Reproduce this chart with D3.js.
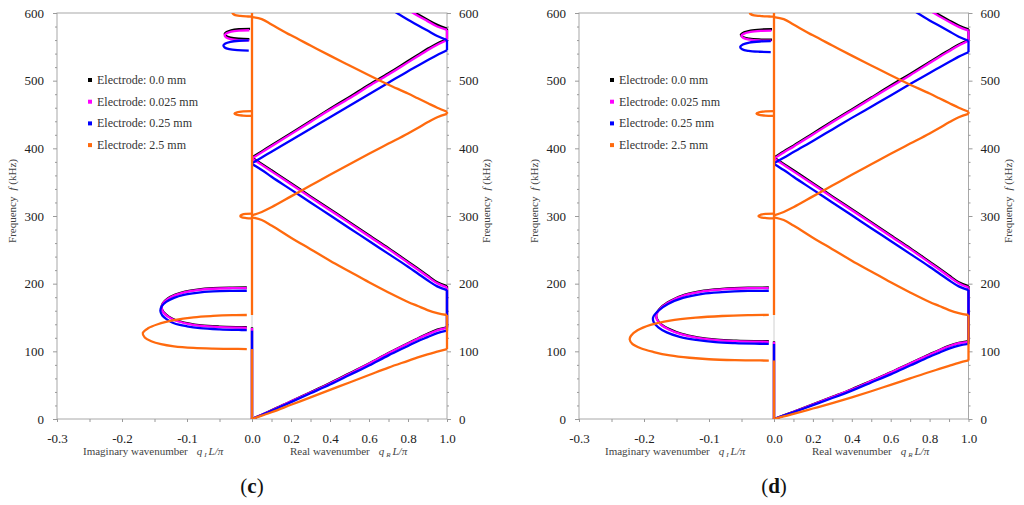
<!DOCTYPE html>
<html>
<head>
<meta charset="utf-8">
<script src="https://cdn.jsdelivr.net/npm/d3@7"></script>
<style>
  body { margin: 0; background: #fff; }
  svg { display: block; }
  text { font-family: "Liberation Serif", "Times New Roman", serif; }
</style>
</head>
<body>
<div class="chart"></div>
<script>
// ---- data ----
let seriesNames = ["Electrode: 0.0 mm", "Electrode: 0.025 mm", "Electrode: 0.25 mm", "Electrode: 2.5 mm"];
let seriesColors = ["#000000", "#ff00ff", "#0000ff", "#ff6a0e"];

let freqTicks = [0, 100, 200, 300, 400, 500, 600];
let freqMinor = [20, 40, 60, 80, 120, 140, 160, 180, 220, 240, 260, 280, 320, 340, 360, 380, 420, 440, 460, 480, 520, 540, 560, 580];
let imagTicks = [-0.3, -0.2, -0.1];
let imagMinor = [-0.25, -0.15, -0.05];
let realTicks = [0, 0.2, 0.4, 0.6, 0.8, 1.0];
let realMinor = [0.1, 0.3, 0.5, 0.7, 0.9];

// real wavenumber grid  q_R L/pi
let qGrid = [0, 0.05, 0.1, 0.2, 0.3, 0.4, 0.5, 0.6, 0.7, 0.8, 0.85, 0.9, 0.95, 1];

// (c) frequencies (kHz) on qGrid, order: 0.0, 0.025, 0.25, 2.5 mm
let cBand1 = [
  [0, 6.3, 12.7, 26.3, 39.5, 53, 67.5, 82, 97.5, 112, 119, 126, 132, 135.5],
  [0, 6.2, 12.5, 26, 39, 52.5, 67, 81.5, 97, 111.5, 118.5, 125, 131, 134.5],
  [0, 6, 12, 25, 38, 51, 65, 79, 94, 108, 115, 121, 127, 130.5],
  [0, 5, 10, 21, 32, 43, 54, 65, 76, 86, 91, 95.5, 99.5, 103.4]
];
let cBand2 = [
  [386.5, 377, 367.5, 348.5, 329, 310, 291, 271.5, 252.5, 232.5, 222.5, 212, 202, 196.5],
  [385, 375.5, 366, 347, 327.5, 308.5, 289.5, 270, 251, 231, 221, 210.5, 200.5, 194.5],
  [377, 368, 358, 339, 320, 301, 282, 263, 244, 225, 215, 205, 196, 190.5],
  [298, 294, 286, 268, 251, 234, 218, 202, 187, 173, 167, 161, 156.5, 153.7]
];
let cBand3 = [
  [386.5, 395.5, 404.5, 422.5, 440.5, 458.5, 476, 494, 511, 529, 538, 547, 555, 561],
  [385, 394, 403, 421, 439, 457, 474, 492, 509, 527, 536, 545, 553, 560],
  [378, 386.5, 395, 412, 429, 446, 463, 480, 497, 514, 522, 530, 538, 545],
  [301, 306, 313, 329, 345, 361, 376.5, 392, 407, 422, 430, 438.5, 446, 451]
];
let cBand4 = [
  [null, null, null, null, null, null, null, null, 624, 607, 598, 590, 582.5, 577],
  [null, null, null, null, null, null, null, null, 622, 605, 596, 588, 580, 575],
  [null, null, null, null, null, null, null, null, 608, 590, 582, 574, 566, 560],
  [594, 591, 583, 567, 552, 537, 522.5, 508, 494, 481, 474, 467, 460, 454]
];
// (c) imaginary branches [q_I L/pi, f]
let cGapLoops = [
  [[-0.008, 194.3], [-0.03, 194.1], [-0.06, 193.3], [-0.084, 191.3], [-0.103, 188.3], [-0.118, 183.8], [-0.13, 177.8], [-0.137, 171.3], [-0.139, 164.8], [-0.136, 157.8], [-0.128, 151.3], [-0.118, 146.3], [-0.098, 141.3], [-0.078, 138.3], [-0.05, 136.6], [-0.02, 135.8], [-0.008, 135.6]],
  [[-0.008, 193.5], [-0.03, 193.3], [-0.06, 192.5], [-0.084, 190.5], [-0.103, 187.5], [-0.118, 183], [-0.13, 177], [-0.137, 170.5], [-0.139, 164], [-0.136, 157], [-0.128, 150.5], [-0.118, 145.5], [-0.098, 140.5], [-0.078, 137.5], [-0.05, 135.8], [-0.02, 135], [-0.008, 134.8]],
  [[-0.008, 189.5], [-0.03, 189.3], [-0.06, 188.5], [-0.085, 186.5], [-0.105, 183.5], [-0.12, 179], [-0.132, 173], [-0.139, 166.5], [-0.141, 160], [-0.138, 153], [-0.13, 146.5], [-0.12, 141.5], [-0.1, 137], [-0.08, 134.3], [-0.05, 132.5], [-0.02, 131.6], [-0.008, 131.4]],
  [[-0.008, 153.7], [-0.03, 153.4], [-0.06, 152.3], [-0.09, 150.3], [-0.12, 146], [-0.145, 140], [-0.16, 134], [-0.168, 127], [-0.165, 120.5], [-0.155, 115], [-0.14, 110.5], [-0.12, 107.3], [-0.09, 105], [-0.06, 104], [-0.03, 103.6], [-0.008, 103.4]]
];
let cSmallLoops = [
  [0, [[-0.003, 576.5], [-0.02, 576], [-0.032, 574.5], [-0.039, 572], [-0.042, 569], [-0.04, 566], [-0.033, 563.5], [-0.02, 562], [-0.004, 561.5]]],
  [1, [[-0.004, 574.5], [-0.02, 574], [-0.032, 572.5], [-0.039, 570], [-0.042, 567], [-0.04, 564], [-0.033, 561.5], [-0.02, 560], [-0.004, 559.5]]],
  [2, [[-0.005, 559.5], [-0.02, 559], [-0.033, 557.5], [-0.041, 555], [-0.044, 552], [-0.042, 549], [-0.035, 546.5], [-0.022, 545], [-0.005, 544.5]]],
  [3, [[0, 603.5], [-0.015, 603], [-0.026, 601.5], [-0.03, 599.5], [-0.027, 597.3], [-0.018, 595.6], [-0.006, 594.8], [0, 594.5]]],
  [3, [[0, 455], [-0.013, 454.6], [-0.023, 453.3], [-0.027, 451.5], [-0.024, 449.7], [-0.014, 448.4], [0, 448]]],
  [3, [[0, 303.5], [-0.009, 303.1], [-0.015, 302], [-0.018, 300], [-0.016, 298.2], [-0.009, 297], [0, 296.5]]]
];
// vertical pieces [series, f from, f to] at q = 0 and q = 1
let cEdge0 = [[0, 0, 135.5], [1, 0, 134.5], [2, 0, 130.5], [3, 0, 103.4], [3, 153.7, 600]];
let cEdge1 = [[0, 135.5, 196.5], [1, 134.5, 194.5], [2, 130.5, 190.5], [3, 103.4, 153.7], [0, 561, 577], [1, 560, 575], [2, 545, 560], [3, 451, 454]];

// (d)
let dBand1 = [
  [0, 5.3, 10.6, 21.6, 32.7, 44, 56.5, 69, 82.5, 95.5, 102, 108, 112.5, 115],
  [0, 5.2, 10.4, 21.3, 32.3, 43.5, 56, 68.5, 82, 95, 101.5, 107.5, 112, 114],
  [0, 5, 10, 20.5, 31, 42, 54, 66, 79, 92, 98, 104, 108.5, 111],
  [0, 3.8, 7.6, 15.5, 23.5, 32, 41, 50.5, 60, 69.5, 74, 78.5, 83, 86.5]
];
let dBand2 = [
  [386.5, 377, 367.5, 348.5, 329, 310, 291, 271.5, 252.5, 232.5, 222.5, 212, 202, 196.5],
  [385, 375.5, 366, 347, 327.5, 308.5, 289.5, 270, 251, 231, 221, 210.5, 200.5, 194.5],
  [377, 368, 358, 339, 320, 301, 282, 263, 244, 225, 215, 205, 196, 190.5],
  [298, 294, 286, 268, 251, 234, 218, 202, 187, 173, 167, 161, 156.5, 153.7]
];
let dBand3 = [
  [386.5, 395.5, 404, 422, 440, 457.5, 475, 493, 510, 527.5, 536.5, 545, 553.5, 560],
  [385, 394, 402.5, 420.5, 438.5, 456, 473.5, 491, 508, 526, 535, 543.5, 552, 559],
  [378, 386, 394.5, 411, 428, 445, 461.5, 478, 495, 511.5, 519.5, 527.5, 535.5, 542],
  [301, 306, 313, 329, 345, 361, 376.5, 392, 407, 422, 430, 438.5, 446, 451]
];
let dBand4 = [
  [null, null, null, null, null, null, null, null, 623, 606, 597, 589, 581.5, 576],
  [null, null, null, null, null, null, null, null, 621, 604, 595, 587, 579.5, 574],
  [null, null, null, null, null, null, null, null, 607, 589, 581, 573, 565, 559],
  [594, 591, 583, 567, 552, 537, 522.5, 508, 494, 481, 474, 467, 460, 454]
];
let dGapLoops = [
  [[-0.008, 194.3], [-0.04, 194], [-0.08, 192.3], [-0.108, 189.8], [-0.137, 183.8], [-0.159, 174.8], [-0.174, 164.8], [-0.181, 154.8], [-0.18, 147.8], [-0.174, 140.3], [-0.161, 132.8], [-0.142, 125.8], [-0.118, 120.8], [-0.088, 117.3], [-0.058, 115.8], [-0.03, 115.1], [-0.008, 114.9]],
  [[-0.008, 193.5], [-0.04, 193.2], [-0.08, 191.5], [-0.108, 189], [-0.137, 183], [-0.159, 174], [-0.174, 164], [-0.181, 154], [-0.18, 147], [-0.174, 139.5], [-0.161, 132], [-0.142, 125], [-0.118, 120], [-0.088, 116.5], [-0.058, 115], [-0.03, 114.3], [-0.008, 114.1]],
  [[-0.008, 189.5], [-0.04, 189.2], [-0.08, 187.5], [-0.11, 185], [-0.14, 179], [-0.163, 170], [-0.178, 160], [-0.186, 150], [-0.185, 143], [-0.178, 135.5], [-0.165, 128], [-0.145, 121.5], [-0.12, 117], [-0.09, 113.5], [-0.06, 112], [-0.03, 111.3], [-0.008, 111.1]],
  [[-0.008, 153.8], [-0.04, 153.4], [-0.08, 152.2], [-0.12, 149.8], [-0.16, 145.5], [-0.19, 139], [-0.21, 131], [-0.22, 123], [-0.222, 117.5], [-0.218, 111], [-0.205, 104.5], [-0.185, 99], [-0.16, 94], [-0.13, 90.5], [-0.1, 88.3], [-0.06, 87], [-0.03, 86.6], [-0.008, 86.4]]
];
let dSmallLoops = [
  [0, [[-0.003, 576], [-0.02, 575.5], [-0.036, 574], [-0.046, 571.5], [-0.051, 568], [-0.048, 564.5], [-0.038, 562], [-0.02, 560.8], [-0.003, 560.5]]],
  [1, [[-0.004, 574], [-0.02, 573.5], [-0.036, 572], [-0.046, 569.5], [-0.05, 566.5], [-0.047, 563], [-0.037, 560.5], [-0.02, 559.3], [-0.004, 559]]],
  [2, [[-0.005, 558.5], [-0.02, 558], [-0.038, 556.3], [-0.048, 553.5], [-0.052, 550], [-0.049, 546.5], [-0.039, 544], [-0.022, 542.7], [-0.005, 542.3]]],
  [3, [[0, 603.5], [-0.018, 603], [-0.032, 601.5], [-0.037, 599.5], [-0.034, 597.3], [-0.022, 595.6], [-0.007, 594.8], [0, 594.5]]],
  [3, [[0, 455], [-0.013, 454.6], [-0.023, 453.3], [-0.027, 451.5], [-0.024, 449.7], [-0.014, 448.4], [0, 448]]],
  [3, [[0, 303.5], [-0.012, 303.1], [-0.02, 302], [-0.024, 300], [-0.021, 298.2], [-0.012, 297], [0, 296.5]]]
];
let dEdge0 = [[0, 0, 115], [1, 0, 114], [2, 0, 111], [3, 0, 86.4], [3, 153.7, 600]];
let dEdge1 = [[0, 115, 196.5], [1, 114, 194.5], [2, 111, 190.5], [3, 86.5, 153.7], [0, 560, 576], [1, 559, 574], [2, 542, 559], [3, 451, 454]];

// ---- drawing ----
let svgWidth = 1024;
let svgHeight = 505;
let plotTop = 13;
let plotBottom = 419;

let svg = d3.select(".chart")
  .append("svg")
  .attr("width", svgWidth)
  .attr("height", svgHeight);

let yScale = d3.scaleLinear().domain([0, 600]).range([plotBottom, plotTop]);

function styleAxis(g, fontSize) {
  g.select(".domain").remove();
  g.selectAll("line").attr("stroke", "#9a9a9a");
  g.selectAll("text").attr("font-size", fontSize).attr("fill", "#222")
    .attr("font-family", "'Liberation Serif', serif");
}

function drawPanel(id, left, zero, right, tag, bands, gapLoops, smallLoops, edge0, edge1) {
  let xImag = d3.scaleLinear().domain([-0.3, 0]).range([left, zero]);
  let xReal = d3.scaleLinear().domain([0, 1]).range([zero, right]);
  let xq = q => q < 0 ? xImag(q) : xReal(q);

  let g = svg.append("g");

  g.append("clipPath").attr("id", "clip-" + id)
    .append("rect")
    .attr("x", left).attr("y", plotTop)
    .attr("width", right - left + 3).attr("height", plotBottom - plotTop);

  // frame
  g.append("rect")
    .attr("x", left).attr("y", plotTop)
    .attr("width", right - left).attr("height", plotBottom - plotTop)
    .attr("fill", "none").attr("stroke", "#a8a8a8");
  g.append("line")
    .attr("x1", zero).attr("x2", zero)
    .attr("y1", plotTop).attr("y2", plotBottom)
    .attr("stroke", "#d0d0d0");

  // axes
  let leftAxis = g.append("g").attr("transform", `translate(${left},0)`)
    .call(d3.axisLeft(yScale).tickValues(freqTicks).tickSize(4).tickPadding(9));
  styleAxis(leftAxis, 13);
  let leftMinor = g.append("g").attr("transform", `translate(${left},0)`)
    .call(d3.axisLeft(yScale).tickValues(freqMinor).tickSize(2).tickFormat(""));
  styleAxis(leftMinor, 13);

  let rightAxis = g.append("g").attr("transform", `translate(${right},0)`)
    .call(d3.axisRight(yScale).tickValues(freqTicks).tickSize(4).tickPadding(8));
  styleAxis(rightAxis, 13);
  let rightMinor = g.append("g").attr("transform", `translate(${right},0)`)
    .call(d3.axisRight(yScale).tickValues(freqMinor).tickSize(2).tickFormat(""));
  styleAxis(rightMinor, 13);

  let imagAxis = g.append("g").attr("transform", `translate(0,${plotBottom})`)
    .call(d3.axisBottom(xImag).tickValues(imagTicks).tickSize(3).tickPadding(12)
      .tickFormat(d => d.toFixed(1)));
  styleAxis(imagAxis, 13);
  let imagMinorAxis = g.append("g").attr("transform", `translate(0,${plotBottom})`)
    .call(d3.axisBottom(xImag).tickValues(imagMinor).tickSize(3).tickFormat(""));
  styleAxis(imagMinorAxis, 13);

  let realAxis = g.append("g").attr("transform", `translate(0,${plotBottom})`)
    .call(d3.axisBottom(xReal).tickValues(realTicks).tickSize(3).tickPadding(12)
      .tickFormat(d => d.toFixed(1)));
  styleAxis(realAxis, 13);
  let realMinorAxis = g.append("g").attr("transform", `translate(0,${plotBottom})`)
    .call(d3.axisBottom(xReal).tickValues(realMinor).tickSize(3).tickFormat(""));
  styleAxis(realMinorAxis, 13);

  // curves, collected then drawn series by series (orange on top)
  let items = [];
  bands.forEach(band => band.forEach((fs, s) => {
    items.push({ s: s, pts: qGrid.map((q, i) => [q, fs[i]]), kind: "band" });
  }));
  gapLoops.forEach((pts, s) => items.push({ s: s, pts: pts, kind: "loop" }));
  smallLoops.forEach(d => items.push({ s: d[0], pts: d[1], kind: "loop" }));
  edge0.forEach(d => items.push({ s: d[0], pts: [[0, d[1]], [0, d[2]]], kind: "edge" }));
  edge1.forEach(d => items.push({ s: d[0], pts: [[1, d[1]], [1, d[2]]], kind: "edge" }));
  items.sort((a, b) => a.s - b.s);

  let bandLine = d3.line()
    .defined(d => d[1] != null)
    .x(d => xq(d[0]))
    .y(d => yScale(d[1]))
    .curve(d3.curveMonotoneX);
  let loopLine = d3.line()
    .x(d => xq(d[0]))
    .y(d => yScale(d[1]))
    .curve(d3.curveCatmullRom);
  let straightLine = d3.line()
    .x(d => xq(d[0]))
    .y(d => yScale(d[1]));

  g.append("g")
    .attr("clip-path", `url(#clip-${id})`)
    .selectAll("path")
    .data(items)
    .enter()
    .append("path")
    .attr("d", d => d.kind == "band" ? bandLine(d.pts) : d.kind == "loop" ? loopLine(d.pts) : straightLine(d.pts))
    .attr("fill", "none")
    .attr("stroke", d => seriesColors[d.s])
    .attr("stroke-width", 2.3)
    .attr("stroke-linejoin", "round");

  // legend
  let legend = g.append("g").attr("transform", `translate(${left + 31},80)`);
  seriesNames.forEach((name, i) => {
    legend.append("rect")
      .attr("x", 0).attr("y", i * 21.7 - 2)
      .attr("width", 4).attr("height", 4)
      .attr("fill", seriesColors[i]);
    legend.append("text")
      .attr("x", 9).attr("y", i * 21.7 + 4)
      .attr("font-size", 12).attr("fill", "#333")
      .text(name);
  });

  // axis titles
  let imagTitle = g.append("text")
    .attr("x", left + 26).attr("y", 455)
    .attr("font-size", 11).attr("fill", "#444");
  imagTitle.append("tspan").text("Imaginary wavenumber");
  imagTitle.append("tspan").attr("dx", 9).attr("font-style", "italic").text("q");
  imagTitle.append("tspan").attr("dx", 2).attr("dy", 2).attr("font-size", 7).attr("font-style", "italic").text("I");
  imagTitle.append("tspan").attr("dx", 2).attr("dy", -2).attr("font-style", "italic").text("L/π");

  let realTitle = g.append("text")
    .attr("x", zero + 38).attr("y", 455)
    .attr("font-size", 11).attr("fill", "#444");
  realTitle.append("tspan").text("Real wavenumber");
  realTitle.append("tspan").attr("dx", 9).attr("font-style", "italic").text("q");
  realTitle.append("tspan").attr("dx", 2).attr("dy", 2).attr("font-size", 7).attr("font-style", "italic").text("R");
  realTitle.append("tspan").attr("dx", 2).attr("dy", -2).attr("font-style", "italic").text("L/π");

  [left - 41, right + 43].forEach(xPos => {
    let t = g.append("text")
      .attr("transform", `translate(${xPos},201) rotate(-90)`)
      .attr("text-anchor", "middle")
      .attr("font-size", 11).attr("fill", "#444");
    t.append("tspan").text("Frequency");
    t.append("tspan").attr("dx", 6).attr("font-style", "italic").text("f");
    t.append("tspan").text(" (kHz)");
  });

  // panel tag
  let tagText = g.append("text")
    .attr("x", zero).attr("y", 493)
    .attr("text-anchor", "middle")
    .attr("font-size", 21).attr("fill", "#111");
  tagText.append("tspan").text("(");
  tagText.append("tspan").attr("font-weight", "bold").text(tag);
  tagText.append("tspan").text(")");
}

drawPanel("c", 57, 252, 447, "c", [cBand1, cBand2, cBand3, cBand4], cGapLoops, cSmallLoops, cEdge0, cEdge1);
drawPanel("d", 579, 774, 968.5, "d", [dBand1, dBand2, dBand3, dBand4], dGapLoops, dSmallLoops, dEdge0, dEdge1);
</script>
</body>
</html>
